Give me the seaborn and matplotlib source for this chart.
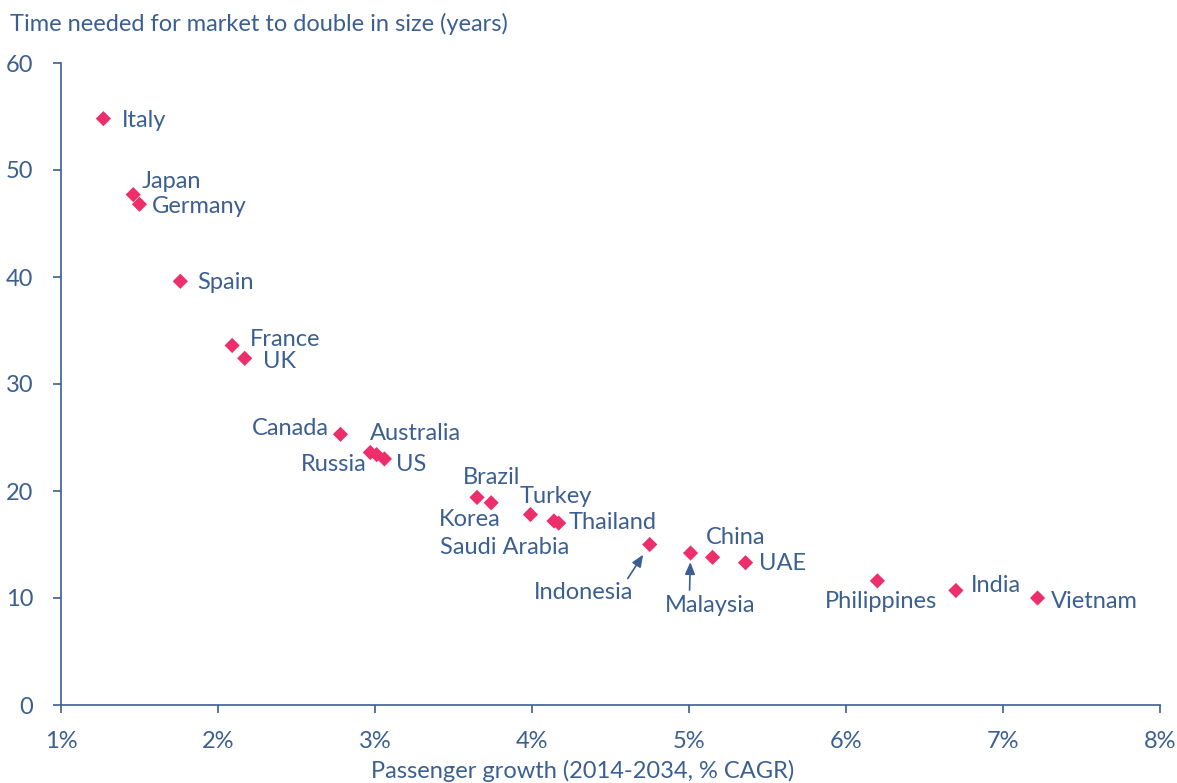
import matplotlib
matplotlib.use("Agg")
import matplotlib.pyplot as plt
import seaborn as sns
import pandas as pd
from matplotlib.ticker import FuncFormatter

countries = ["Italy", "Japan", "Germany", "Spain", "France", "UK", "Canada",
             "Australia", "Russia", "US", "Brazil", "Korea", "Turkey",
             "Saudi Arabia", "Thailand", "Indonesia", "Malaysia", "China",
             "UAE", "Philippines", "India", "Vietnam"]
growth = [1.27, 1.46, 1.50, 1.76, 2.09, 2.17, 2.78,
          2.97, 3.01, 3.06, 3.65, 3.74, 3.99,
          4.14, 4.17, 4.75, 5.01, 5.15,
          5.36, 6.20, 6.70, 7.22]
years = [54.8, 47.7, 46.8, 39.6, 33.6, 32.4, 25.3,
         23.6, 23.4, 23.0, 19.4, 18.9, 17.8,
         17.2, 17.0, 15.0, 14.2, 13.8,
         13.3, 11.6, 10.7, 10.0]
x_ticks = [1, 2, 3, 4, 5, 6, 7, 8]
y_ticks = [0, 10, 20, 30, 40, 50, 60]

df = pd.DataFrame({"country": countries, "growth": growth, "years": years})

TXT = "#3B5F91"
PINK = "#EC2F6B"
FS = 17

sns.set_theme(style="white")
plt.rcParams["font.family"] = ["Lato", "DejaVu Sans"]

fig = plt.figure(figsize=(11.77, 7.83), dpi=100)
ax = fig.add_axes([61/1177, 78/783, (1160-61)/1177, (705-63)/783])

sns.scatterplot(data=df, x="growth", y="years", marker="D", s=60,
                color=PINK, edgecolor="none", ax=ax, zorder=3)

ax.set_xlim(1, 8)
ax.set_ylim(0, 60)
ax.set_xticks(x_ticks)
ax.set_yticks(y_ticks)
ax.xaxis.set_major_formatter(FuncFormatter(lambda v, p: f"{int(v)}%"))
ax.set_xlabel("")
ax.set_ylabel("")
for s in ["top", "right"]:
    ax.spines[s].set_visible(False)
for s in ["left", "bottom"]:
    ax.spines[s].set_color(TXT)
    ax.spines[s].set_linewidth(1.2)
ax.tick_params(axis="both", colors=TXT, labelcolor=TXT, labelsize=FS,
               length=6, width=1.2, direction="out")
ax.tick_params(axis="x", pad=13)
ax.tick_params(axis="y", pad=14)
ax.xaxis.set_ticks_position("bottom")
ax.yaxis.set_ticks_position("left")

# label offsets in pixels (dx, dy, ha)
offsets = {
    "Italy": (18, -2, "left"), "Japan": (8, 13, "left"), "Germany": (12, -2, "left"),
    "Spain": (17, -1, "left"), "France": (18, 6, "left"), "UK": (18, -3, "left"),
    "Canada": (-12, 6, "right"), "Australia": (0, 19, "left"),
    "Russia": (-10, -10, "right"), "US": (12, -6, "left"),
    "Brazil": (15, 20, "center"), "Korea": (-21, -17, "center"),
    "Turkey": (-11, 18, "left"), "Saudi Arabia": (-49, -27, "center"),
    "Thailand": (10, 1, "left"), "Indonesia": (-66, -48, "center"),
    "Malaysia": (20, -52, "center"), "China": (-7, 20, "left"),
    "UAE": (13, -1, "left"), "Philippines": (4, -21, "center"),
    "India": (15, 5, "left"), "Vietnam": (13, -4, "left"),
}
for c, gx, gy in zip(countries, growth, years):
    dx, dy, ha = offsets[c]
    ax.annotate(c, xy=(gx, gy), xytext=(dx, dy), textcoords="offset pixels",
                ha=ha, va="center", color=TXT, fontsize=FS)

# arrows
arrows = {"Indonesia": (-22, -34, 8.7), "Malaysia": (-1, -37, 6.5)}
for c, (tx, ty, shr) in arrows.items():
    i = countries.index(c)
    ax.annotate("", xy=(growth[i], years[i]), xytext=(tx, ty),
                textcoords="offset pixels",
                arrowprops=dict(arrowstyle="-|>,head_length=0.6,head_width=0.25",
                                color=TXT, lw=1.2, shrinkA=0, shrinkB=shr))

fig.text(10/1177, 1 - 24/783, "Time needed for market to double in size (years)",
         ha="left", va="center", color=TXT, fontsize=FS)
fig.text(583/1177, 1 - 771/783, "Passenger growth (2014-2034, % CAGR)",
         ha="center", va="center", color=TXT, fontsize=FS)

fig.savefig("out.png", dpi=100, facecolor="white")
